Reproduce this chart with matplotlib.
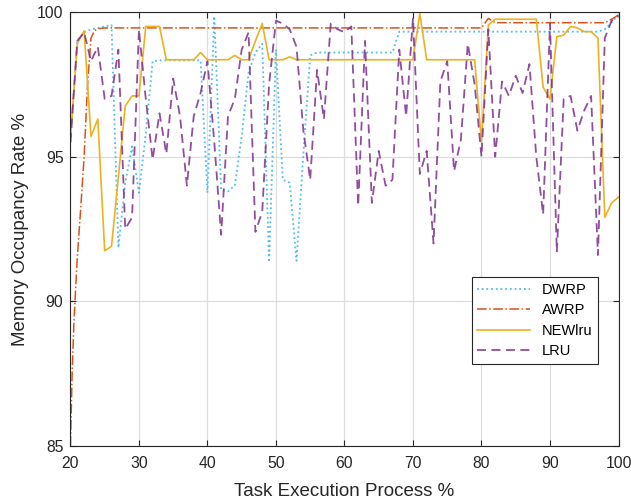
import numpy as np
import matplotlib
matplotlib.use('Agg')
import matplotlib.pyplot as plt

plt.rcParams['font.family'] = ['Liberation Sans', 'DejaVu Sans']

# Task execution progress (%), one sample per percent
x = list(range(20, 101))

dwrp = [95.5, 99.0, 99.3, 99.4, 99.45, 99.5, 99.55, 91.85, 94.1, 95.35,
        93.75, 95.8, 98.3, 98.33, 98.33, 98.33, 98.33, 98.33, 98.33, 98.33,
        93.75, 99.85, 93.85, 93.8, 94.0, 95.7, 97.9, 98.6, 98.9, 91.35,
        98.7, 94.2, 94.1, 91.4, 95.1, 98.5, 98.6, 98.6, 98.6, 98.6,
        98.6, 98.6, 98.6, 98.6, 98.6, 98.6, 98.6, 98.6, 99.32, 99.32,
        99.32, 99.32, 99.32, 99.32, 99.32, 99.32, 99.32, 99.32, 99.32, 99.32,
        99.32, 99.32, 99.32, 99.32, 99.32, 99.32, 99.32, 99.32, 99.32, 99.32,
        99.32, 99.32, 99.32, 99.32, 99.32, 99.32, 99.32, 99.32, 99.4, 99.65,
        99.9]

awrp_x = [20, 20.25, 20.5, 20.75, 21, 21.5, 22, 22.5, 23, 23.5, 24, 25,
          80, 81, 82, 98, 99, 100]
awrp = [85.0, 87.5, 89.2, 90.4, 91.5, 93.2, 95.0, 97.5, 99.1, 99.35, 99.42, 99.45,
        99.45, 99.78, 99.63, 99.63, 99.75, 99.9]

newlru = [95.6, 98.9, 99.35, 95.7, 96.3, 91.75, 91.9, 94.3, 96.75, 97.1,
          97.1, 99.5, 99.5, 99.5, 98.35, 98.35, 98.35, 98.35, 98.35, 98.6,
          98.35, 98.35, 98.35, 98.35, 98.5, 98.35, 98.35, 99.0, 99.6, 98.35,
          98.35, 98.35, 98.45, 98.35, 98.35, 98.35, 98.35, 98.35, 98.35, 98.35,
          98.35, 98.35, 98.35, 98.35, 98.35, 98.35, 98.35, 98.35, 98.35, 98.35,
          98.35, 99.95, 98.35, 98.35, 98.35, 98.35, 98.35, 98.35, 98.35, 98.35,
          95.5, 99.55, 99.75, 99.75, 99.75, 99.75, 99.75, 99.75, 99.75, 97.4,
          97.0, 99.15, 99.2, 99.5, 99.45, 99.32, 99.32, 99.1, 92.9, 93.4,
          93.6]

lru = [95.5, 99.0, 99.3, 98.3, 98.8, 97.0, 97.1, 98.7, 92.5, 92.9,
       99.4, 97.0, 94.9, 96.5, 95.1, 97.7, 96.4, 94.0, 96.4, 97.2,
       98.3, 95.5, 92.3, 96.4, 97.0, 98.7, 99.3, 92.4, 93.1, 97.5,
       99.7, 99.6, 99.4, 98.8, 95.9, 94.2, 98.0, 96.3, 99.6, 99.4,
       99.3, 99.5, 93.3, 99.0, 93.4, 95.2, 94.0, 94.2, 98.7, 96.4,
       99.8, 94.4, 95.2, 92.0, 97.6, 98.3, 94.5, 95.6, 98.9, 97.5,
       95.0, 99.4, 95.0, 97.6, 97.1, 97.8, 97.2, 98.2, 95.0, 93.0,
       99.6, 91.7, 97.0, 97.1, 95.9, 96.6, 97.1, 91.6, 99.1, 99.7,
       99.85]

labels = ['DWRP', 'AWRP', 'NEWlru', 'LRU']

fig = plt.figure(figsize=(6.31, 5), dpi=100)
ax = fig.add_axes([0.1116, 0.108, 0.8686, 0.868])

ax.plot(x, dwrp, linestyle=(0, (1, 1.6)), color='#4DBEEE', lw=1.3, label=labels[0])
ax.plot(awrp_x, awrp, linestyle='-.', color='#D95319', lw=1.1, label=labels[1])
ax.plot(x, newlru, linestyle='-', color='#EDB120', lw=1.2, label=labels[2])
ax.plot(x, lru, linestyle=(0, (5, 3)), color='#7E2F8E', lw=1.3, alpha=0.85, label=labels[3])

ax.set_xlim(20, 100)
ax.set_ylim(85, 100)
ax.set_xticks(range(20, 101, 10))
ax.set_yticks([85, 90, 95, 100])
ax.grid(True, color='#dedede', lw=0.9)
ax.set_axisbelow(True)
ax.tick_params(direction='in', top=True, right=True, length=4.3, width=0.8,
               labelsize=11.3, colors='#262626', pad=5)
ax.tick_params(axis='x', pad=7.5)
for s in ax.spines.values():
    s.set_color('#262626')
    s.set_linewidth(0.8)

ax.set_xlabel('Task Execution Process %', fontsize=13.5, color='#262626', labelpad=8.5)
ax.set_ylabel('Memory Occupancy Rate %', fontsize=13.5, color='#262626', labelpad=6)

leg = ax.legend(loc='lower right', bbox_to_anchor=(0.9626, 0.1885), borderaxespad=0,
                fancybox=False, edgecolor='#262626', framealpha=1, fontsize=10.5,
                handlelength=3.6, labelspacing=0.45)
leg.get_frame().set_linewidth(0.8)

fig.savefig('out.png', dpi=100)
